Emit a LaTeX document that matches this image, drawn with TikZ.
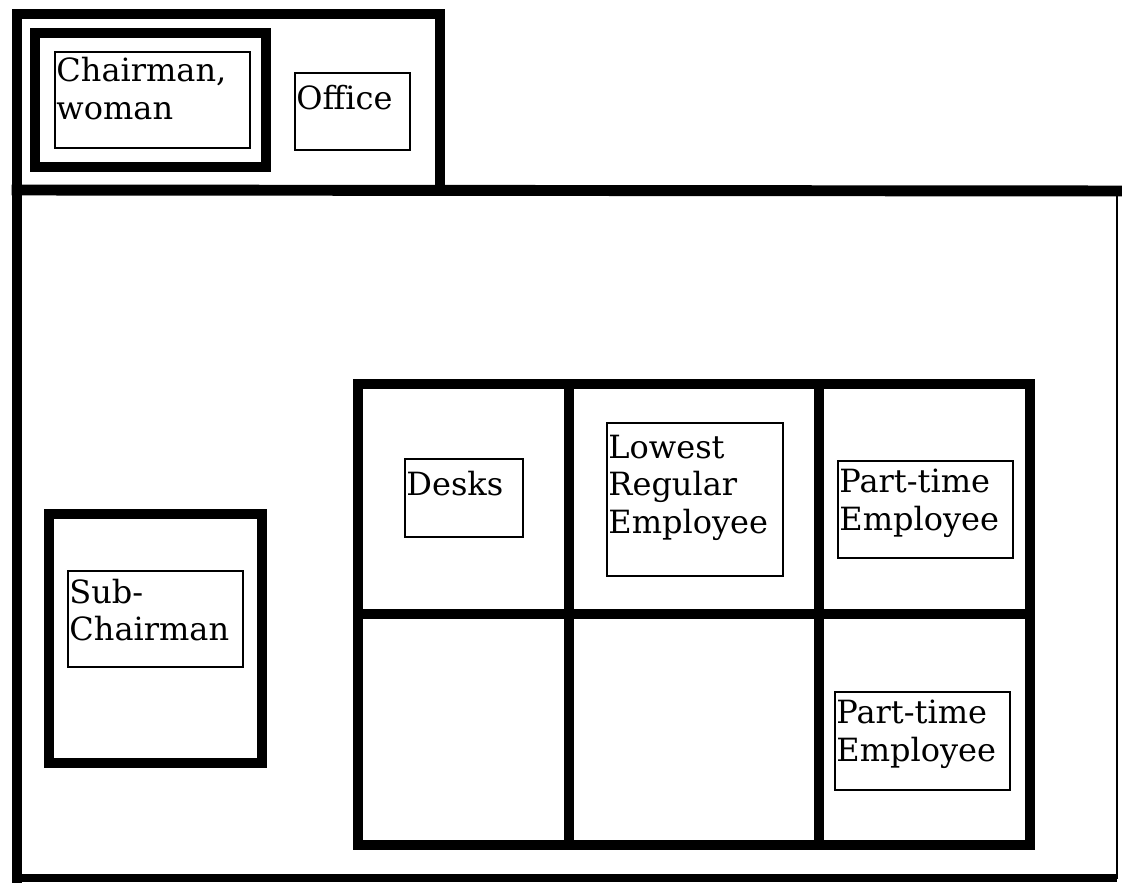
\documentclass[tikz,border=0pt]{standalone}
\usepackage{fontspec}
\setmainfont{DejaVu Serif}
\usetikzlibrary{fit}
\begin{document}
\begin{tikzpicture}[x=0.75pt,y=-0.75pt,
  wall/.style={line width=8.2pt, line cap=rect, line join=miter},
  thinwall/.style={line width=2.2pt, line cap=rect},
  room/.style={draw, line width=8.2pt, rectangle, inner sep=0pt},
  tag/.style={draw, line width=2.2pt, rectangle, inner sep=0pt},
  caption/.style={anchor=north west, align=left, inner xsep=2pt, inner ysep=10pt,
    font=\fontsize{24}{28}\selectfont}
]
\useasboundingbox (0,0) rectangle (1122,884);

% office (upper wing) and the main hall
\coordinate (ow1) at (17,190);
\coordinate (ow2) at (17,14);
\coordinate (ow3) at (440,14);
\coordinate (ow4) at (440,190);
\coordinate (hr) at (1122,191);
\coordinate (hb) at (17,878);
\coordinate (hbr) at (1117,878);
\coordinate (htr) at (1117,191);
\draw[wall] (ow4) -- (ow3) -- (ow2) -- (hb);
\draw[wall] (ow1) -- (hr);
\draw[line width=5.5pt] (hb) -- (hbr);
\draw[thinwall] (htr) -- (hbr);

% chairman's enclosure
\coordinate (cr1) at (35,33);   \coordinate (cr2) at (266,167);
\node[room, fit=(cr1)(cr2)] (chairroom) {};
\coordinate (c1) at (55,52);    \coordinate (c2) at (250,148);
\node[tag, fit=(c1)(c2)] (chair) {};
\node[caption, inner ysep=5pt] at (chair.north west) {Chairman,\\woman};

\coordinate (o1) at (295,73);   \coordinate (o2) at (410,150);
\node[tag, fit=(o1)(o2)] (office) {};
\node[caption] at (office.north west) {Office};

% sub-chairman's enclosure
\coordinate (sr1) at (49,514);  \coordinate (sr2) at (262,763);
\node[room, fit=(sr1)(sr2)] (subroom) {};
\coordinate (s1) at (68,571);   \coordinate (s2) at (243,667);
\node[tag, fit=(s1)(s2)] (sub) {};
\node[caption, inner ysep=7pt] at (sub.north west) {Sub-\\Chairman};

% working area: 3 x 2 grid
\coordinate (g1) at (358,384);
\coordinate (g3) at (1030,845);
\draw[wall] (g1) rectangle (g3);
\coordinate (ml) at (358,614);
\coordinate (mr) at (1030,614);
\draw[wall] (ml) -- (mr);
\coordinate (v1t) at (569,384);
\coordinate (v1b) at (569,845);
\coordinate (v2t) at (819,384);
\coordinate (v2b) at (819,845);
\draw[wall] (v1t) -- (v1b);
\draw[wall] (v2t) -- (v2b);

\coordinate (d1) at (405,459);  \coordinate (d2) at (523,537);
\node[tag, fit=(d1)(d2)] (desks) {};
\node[caption] at (desks.north west) {Desks};

\coordinate (l1) at (607,423);  \coordinate (l2) at (783,576);
\node[tag, fit=(l1)(l2)] (lowest) {};
\node[caption] at (lowest.north west) {Lowest\\Regular\\Employee};

\coordinate (p1) at (838,461);  \coordinate (p2) at (1013,558);
\node[tag, fit=(p1)(p2)] (part1) {};
\node[caption, inner ysep=7pt] at (part1.north west) {Part-time\\Employee};

\coordinate (q1) at (835,692);  \coordinate (q2) at (1010,790);
\node[tag, fit=(q1)(q2)] (part2) {};
\node[caption, inner ysep=7pt] at (part2.north west) {Part-time\\Employee};
\end{tikzpicture}
\end{document}
